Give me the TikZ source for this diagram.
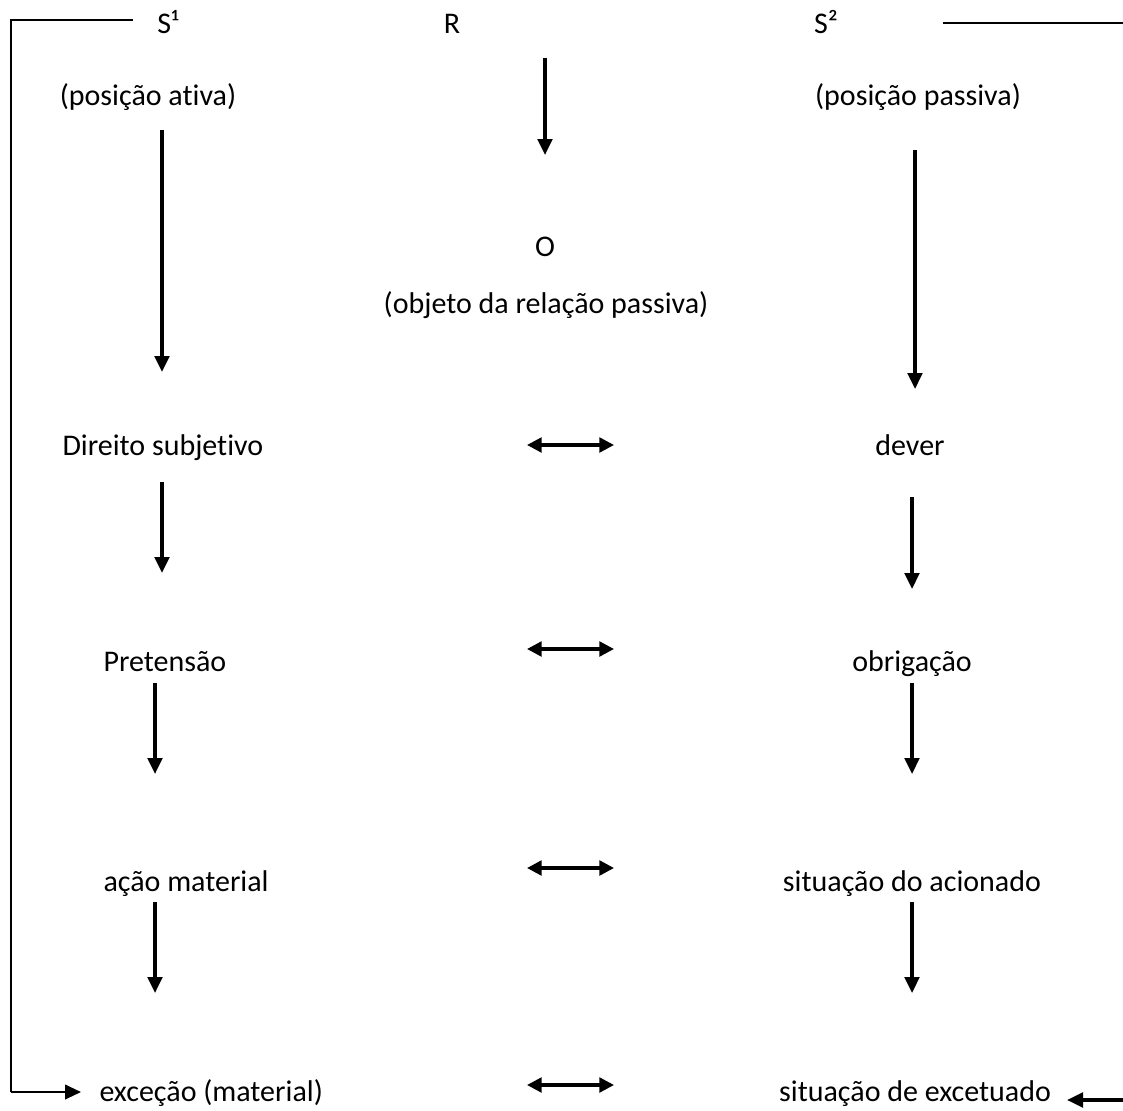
\documentclass[tikz,border=0pt]{standalone}
\usepackage{fontspec}
\setmainfont[Ligatures=NoCommon]{Carlito}
\usetikzlibrary{arrows.meta}

\tikzset{every picture/.style={line width=0.75pt}}
\tikzset{
  lbl/.style={anchor=base, inner sep=0pt, font=\fontsize{22.5}{27}\selectfont},
  lblw/.style={lbl, anchor=base west},
  arr/.style={line width=2.5pt, -{Triangle[length=12pt,width=11pt]}},
  dbl/.style={line width=2.5pt, {Triangle[length=11pt,width=11pt]}-{Triangle[length=11pt,width=11pt]}},
  frame/.style={line width=1.5pt}
}

\begin{document}
\begin{tikzpicture}[x=0.75pt,y=0.75pt,yscale=-1,xscale=1]
\useasboundingbox (0,0) rectangle (1123,1110);

% top row
\node [lbl] (s1) at (168,33) {S¹};
\node [lbl] (r) at (452,33) {R};
\node [lbl] (s2) at (826,33) {S²};
\node [lbl] (pa) at (148,105) {(posição ativa)};
\node [lbl] (pp) at (918,105) {(posição passiva)};

% object
\node [lbl] (o) at (545,256) {O};
\node [lbl] (obj) at (546,313) {(objeto da relação passiva)};

% left column
\node [lblw] (ds) at (62,455) {Direito subjetivo};
\node [lblw] (pr) at (103,671) {Pretensão};
\node [lblw] (am) at (103,891) {ação material};
\node [lblw] (ex) at (99,1101) {exceção (material)};

% right column
\node [lbl] (dv) at (910,455) {dever};
\node [lbl] (ob) at (912,671) {obrigação};
\node [lbl] (sa) at (912,891) {situação do acionado};
\node [lbl] (se) at (915,1101) {situação de excetuado};

% arrows down
\draw [arr] (545,58) -- (545,155);
\draw [arr] (162,130) -- (162,372);
\draw [arr] (162,482) -- (162,573);
\draw [arr] (155,683) -- (155,774);
\draw [arr] (155,902) -- (155,993);
\draw [arr] (915,150) -- (915,389);
\draw [arr] (912,497) -- (912,589);
\draw [arr] (912,683) -- (912,774);
\draw [arr] (912,902) -- (912,993);

% arrows between columns
\draw [dbl] (527,445) -- (614,445);
\draw [dbl] (527,649) -- (614,649);
\draw [dbl] (527,868) -- (614,868);
\draw [dbl] (527,1085) -- (614,1085);

% outer lines
\draw [frame] (133,20) -- (11,20) -- (11,1092);
\draw [frame, -{Triangle[length=12pt,width=11pt]}] (11,1092) -- (81,1092);
\draw [frame] (943,23) -- (1123,23);
\draw [arr] (1123,1100) -- (1067,1100);
\end{tikzpicture}
\end{document}
